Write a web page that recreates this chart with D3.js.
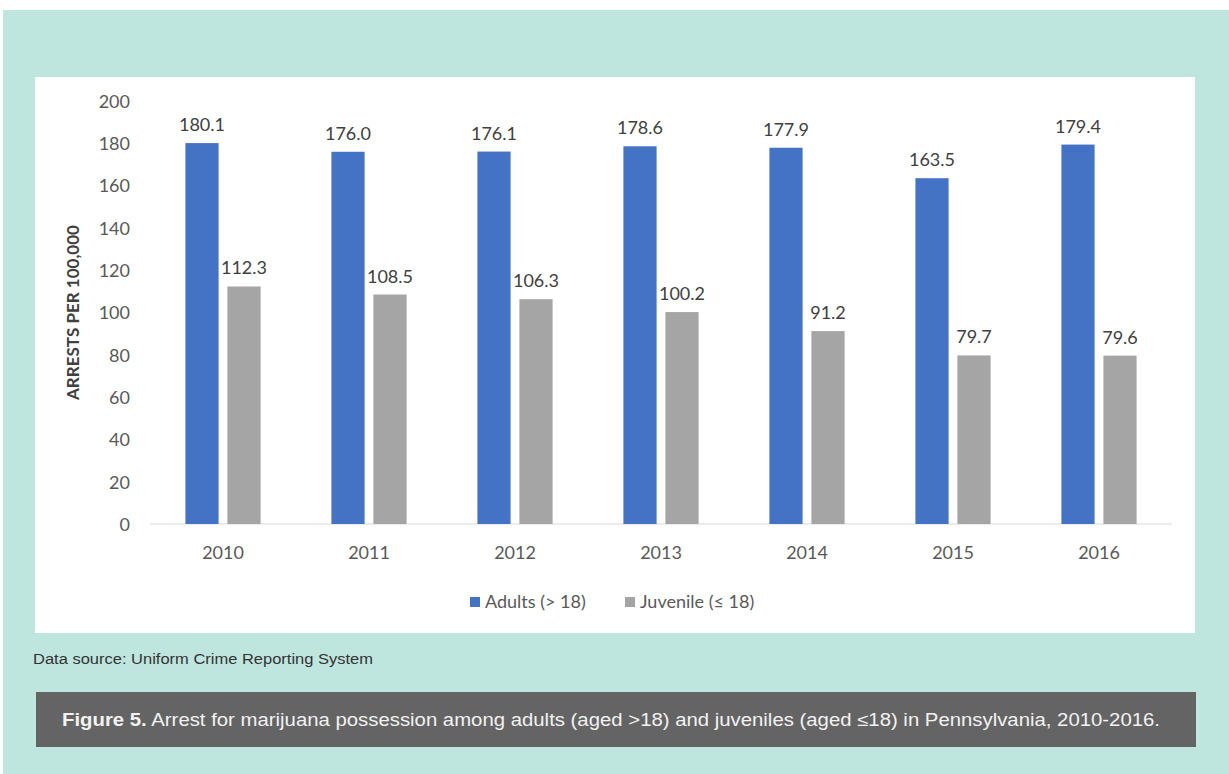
<!DOCTYPE html>
<meta charset="utf-8">
<head>
<style>
  body { margin: 0; background: #ffffff; }
  svg { display: block; }
  .tick text { font-family: Lato, "Open Sans", sans-serif; }
</style>
</head>
<body>
<svg id="chart" width="1229" height="774"></svg>
<script src="https://cdn.jsdelivr.net/npm/d3@7"></script>
<script>
// data
var years = ["2010", "2011", "2012", "2013", "2014", "2015", "2016"];
var adults = [180.1, 176.0, 176.1, 178.6, 177.9, 163.5, 179.4];
var juvenile = [112.3, 108.5, 106.3, 100.2, 91.2, 79.7, 79.6];
var seriesNames = ["Adults (> 18)", "Juvenile (\u2264 18)"];
var seriesColors = ["#4472C4", "#A5A5A5"];
var yTicks = [0, 20, 40, 60, 80, 100, 120, 140, 160, 180, 200];

var svg = d3.select("#chart");

// mint backdrop + white chart panel
svg.append("rect").attr("x", 3).attr("y", 10).attr("width", 1226).attr("height", 764).attr("fill", "#BEE6DE");
svg.append("rect").attr("x", 35).attr("y", 77).attr("width", 1160).attr("height", 556).attr("fill", "#ffffff");

var plotL = 150, plotR = 1172, plotT = 101, plotB = 524;

var x0 = d3.scaleBand().domain(years).range([plotL, plotR]).padding(0);
var x1 = d3.scaleBand().domain([0, 1]).range([0, x0.bandwidth()]).paddingInner(0.21).paddingOuter(0.843);
var y = d3.scaleLinear().domain([0, 200]).range([plotB, plotT]);

// y axis (labels only)
var yAxis = svg.append("g")
    .attr("transform", "translate(" + (plotL - 20) + ",0)")
    .call(d3.axisLeft(y).tickValues(yTicks).tickSize(0).tickPadding(0));
yAxis.select(".domain").remove();
yAxis.selectAll("text").attr("font-size", 18).attr("fill", "#595959").attr("dy", "0.35em");

// baseline
svg.append("line")
    .attr("x1", plotL).attr("x2", plotR)
    .attr("y1", y(0)).attr("y2", y(0))
    .attr("stroke", "#D9D9D9").attr("stroke-width", 1.2);

// x axis labels
var xAxis = svg.append("g")
    .attr("transform", "translate(0," + y(0) + ")")
    .call(d3.axisBottom(x0).tickSize(0).tickPadding(22));
xAxis.select(".domain").remove();
xAxis.selectAll("text").attr("font-size", 18).attr("fill", "#595959");

var rows = years.map(function(yr, i) {
  return { year: yr, vals: [adults[i], juvenile[i]] };
});

var groups = svg.selectAll(".grp")
    .data(rows)
    .enter().append("g")
    .attr("class", "grp")
    .attr("transform", function(d) { return "translate(" + x0(d.year) + ",0)"; });

groups.selectAll("rect")
    .data(function(d) { return d.vals.map(function(v, k) { return { k: k, v: v }; }); })
    .enter().append("rect")
    .attr("x", function(d) { return x1(d.k); })
    .attr("width", x1.bandwidth())
    .attr("y", function(d) { return y(d.v); })
    .attr("height", function(d) { return y(0) - y(d.v); })
    .attr("fill", function(d) { return seriesColors[d.k]; });

groups.selectAll(".lbl")
    .data(function(d) { return d.vals.map(function(v, k) { return { k: k, v: v }; }); })
    .enter().append("text")
    .attr("class", "lbl")
    .attr("x", function(d) { return x1(d.k) + x1.bandwidth() / 2; })
    .attr("y", function(d) { return y(d.v) - 12; })
    .attr("text-anchor", "middle")
    .attr("font-family", "Lato, sans-serif")
    .attr("font-size", 18)
    .attr("fill", "#404040")
    .text(function(d) { return d.v.toFixed(1); });

// y axis title
svg.append("text")
    .attr("transform", "translate(79," + ((plotT + plotB) / 2) + ") rotate(-90)")
    .attr("text-anchor", "middle")
    .attr("font-family", "Lato, sans-serif")
    .attr("font-size", 17)
    .attr("font-weight", "bold")
    .attr("fill", "#404040")
    .text("ARRESTS PER 100,000");

// legend
var legendX = [470, 625];
var legend = svg.selectAll(".leg")
    .data(seriesNames)
    .enter().append("g")
    .attr("class", "leg")
    .attr("transform", function(d, i) { return "translate(" + legendX[i] + ",602)"; });
legend.append("rect")
    .attr("x", 0).attr("y", -5).attr("width", 10).attr("height", 10)
    .attr("fill", function(d, i) { return seriesColors[i]; });
legend.append("text")
    .attr("x", 15).attr("dy", "0.35em")
    .attr("font-family", "Lato, sans-serif")
    .attr("font-size", 18)
    .attr("fill", "#595959")
    .text(function(d) { return d; });

// data source note
svg.append("text")
    .attr("x", 33).attr("y", 664)
    .attr("font-family", "Liberation Sans, Arial, sans-serif")
    .attr("font-size", 15.5)
    .attr("fill", "#333333")
    .attr("textLength", 340)
    .attr("lengthAdjust", "spacingAndGlyphs")
    .text("Data source: Uniform Crime Reporting System");

// caption bar
svg.append("rect").attr("x", 36).attr("y", 692).attr("width", 1160).attr("height", 55).attr("fill", "#646464");
var cap = svg.append("text")
    .attr("x", 62).attr("y", 726)
    .attr("font-family", "Liberation Sans, Arial, sans-serif")
    .attr("font-size", 17.5)
    .attr("fill", "#F2F2F2")
    .attr("textLength", 1098)
    .attr("lengthAdjust", "spacingAndGlyphs");
cap.append("tspan").attr("font-weight", "bold").text("Figure 5.");
cap.append("tspan").text(" Arrest for marijuana possession among adults (aged >18) and juveniles (aged \u226418) in Pennsylvania, 2010-2016.");
</script>
</body>
</html>
